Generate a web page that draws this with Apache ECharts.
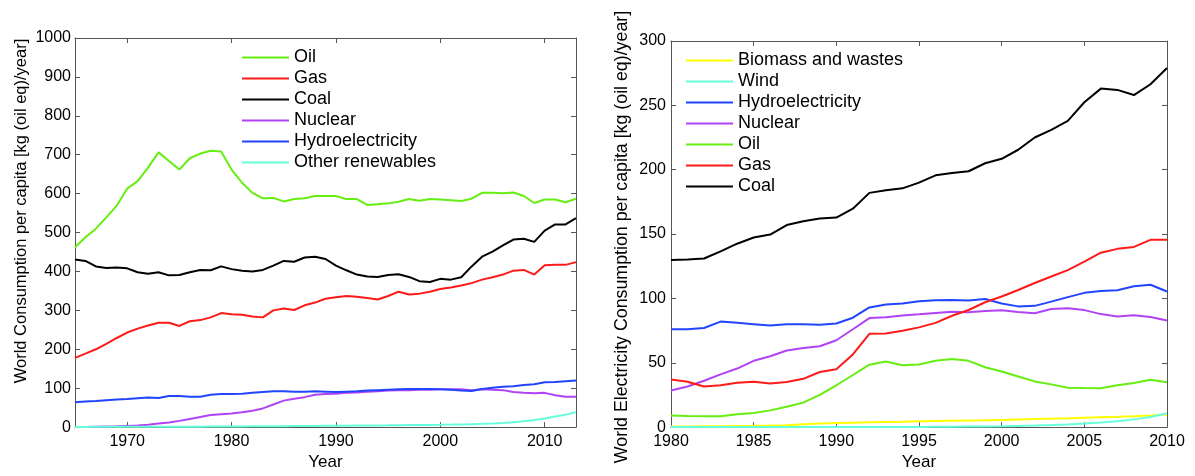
<!DOCTYPE html>
<html>
<head>
<meta charset="utf-8">
<script src="https://cdn.jsdelivr.net/npm/echarts@6/dist/echarts.min.js"></script>
<style>
  html, body { margin: 0; padding: 0; background: #fff; }
  #left { position: absolute; left: 0; top: 0; width: 600px; height: 476px; }
  #right { position: absolute; left: 600px; top: 0; width: 595px; height: 476px; }
</style>
</head>
<body>
<div id="left"></div>
<div id="right"></div>
<script>
// ---------- Left chart: World consumption per capita (1965-2013) ----------
const yearsL = [1965,1966,1967,1968,1969,1970,1971,1972,1973,1974,1975,1976,1977,1978,1979,1980,1981,1982,1983,1984,1985,1986,1987,1988,1989,1990,1991,1992,1993,1994,1995,1996,1997,1998,1999,2000,2001,2002,2003,2004,2005,2006,2007,2008,2009,2010,2011,2012,2013];
const oilL = [462,488,510,539,569,613,632,667,706,684, 662,691,703,710,708,662,628,602,588,589, 580,586,588,594,594,594,586,586,571,573, 575,579,586,582,586,585,583,581,587,602, 602,601,603,594,576,585,585,578,587];
const gasL = [178,189,200,214,229,243,253,261,268,268, 260,272,275,282,293,290,289,284,282,300, 305,301,313,320,330,334,337,335,332,328, 337,348,341,343,348,355,359,364,370,379, 385,392,402,404,392,416,417,417,424];
const coalL = [431,427,413,409,410,408,398,394,398,390, 391,398,404,403,413,406,402,400,404,415, 427,425,436,438,432,415,403,392,387,386, 391,393,386,375,373,381,379,385,413,438, 451,467,482,484,476,505,521,521,537];
const nuclearL = [0,0.5,1,1.5,2,3,4,6,9,12, 16,21,26,31,33,35,38,42,48,58, 68,73,77,83,85,86,88,89,91,92, 94,95,95,96,96,97,97,97,95,97, 96,95,90,88,87,88,82,78,78];
const hydroL = [64,66,67,69,71,72,74,76,75,80, 80,78,78,83,85,85,86,88,90,92, 92,91,91,92,91,90,91,92,94,95, 96,97,98,98,98,97,96,94,93,98, 101,104,105,108,110,115,116,118,120];
const otherL = [0.5,0.5,0.6,0.6,0.7,0.7,0.8,0.8,0.9,0.9, 1.0,1.1,1.2,1.3,1.4,1.5,1.7,1.9,2.1,2.3, 2.5,2.7,2.9,3.1,3.3,3.5,3.7,3.9,4.1,4.3, 4.5,4.8,5.1,5.4,5.7,6.0,6.4,6.9,7.5,8.3, 9.3,10.5,12.5,15,18,22,27,32,38];
const xTicksL = [1970,1980,1990,2000,2010];

// ---------- Right chart: World electricity consumption per capita (1980-2010) ----------
const yearsR = [1980,1981,1982,1983,1984,1985,1986,1987,1988,1989,1990,1991,1992,1993,1994,1995,1996,1997,1998,1999,2000,2001,2002,2003,2004,2005,2006,2007,2008,2009,2010];
const biomassR = [0.5,0.5,0.6,0.7,0.9,1.0,1.2,1.5,2.2,2.8, 3.1,3.4,3.7,4.0,4.2,4.5,4.7,4.9,5.1,5.3, 5.6,5.9,6.2,6.5,6.8,7.2,7.6,8.0,8.5,9.1,9.8];
const windR = [0,0,0,0,0,0,0,0,0,0, 0,0,0,0,0.1,0.1,0.2,0.3,0.4,0.5, 0.6,0.9,1.2,1.6,2.1,2.8,3.6,4.6,6.0,7.9,10.8];
const hydroR = [76,76,77,82,81,80,79,80,80,79.5, 80.5,85,93,95.3,96,97.7,98.6,98.7,98.3,99.5, 96,93.8,94.2,97.5,101,104.3,105.8,106.4,109.5,110.6,105.4];
const nuclearR = [28.5,31.5,36,41,45.5,51.5,55,59.5,61.5,62.8, 67.5,76,84.7,85.4,86.8,87.7,88.7,89.7,89.3,90.3, 90.8,89.5,88.4,91.8,92.3,90.9,87.8,85.9,86.9,85.5,82.8];
const oilR = [9,8.7,8.5,8.4,10,11,13,15.8,19,25, 32.5,40.5,48.5,51,48,48.7,51.5,53,51.5,46.5, 43.2,39.3,35.5,33.2,30.5,30.3,30.2,32.5,34.2,36.8,34.9];
const gasR = [37,35.3,31.5,32.5,34.5,35.2,33.9,35,37.5,42.8, 45,56.5,72.5,72.7,74.8,77.5,81,86.5,91,97, 101.5,106.5,112,117,122,128.5,135.5,138.5,140,145.5,145.6];
const coalR = [129.8,130.3,131,136.6,142.5,147.3,149.6,157,160,162, 162.8,169.7,182,184,185.5,190,195.6,197.4,198.8,205, 208.5,215.5,225,231,238,252.4,263,262,258,266.4,279];

const FONT = "'Liberation Sans', Arial, Helvetica, sans-serif";
const FRAME = '#555555';
const COLORS = {
  'Oil': '#66ee11',
  'Gas': '#ff1a1a',
  'Coal': '#000000',
  'Nuclear': '#b044f5',
  'Hydroelectricity': '#2244ff',
  'Other renewables': '#66ffdd',
  'Wind': '#66ffdd',
  'Biomass and wastes': '#ffff00'
};

function pairs(xs, ys) { return xs.map((x, i) => [x, ys[i]]); }
function plain(v) { return String(v); }

function mkSeries(name, xs, ys) {
  return {
    name: name, type: 'line', data: pairs(xs, ys),
    showSymbol: false, symbol: 'none', animation: false,
    lineStyle: { width: 2, color: COLORS[name] },
    itemStyle: { color: COLORS[name] },
    emphasis: { disabled: true }
  };
}

function baseAxis(extra) {
  return Object.assign({
    type: 'value',
    splitLine: { show: false },
    axisLine: { show: true, onZero: false, lineStyle: { color: FRAME, width: 1 } },
    axisTick: { show: true, inside: true, length: 5, lineStyle: { color: FRAME } },
    axisLabel: { color: '#000', fontFamily: FONT, fontSize: 16, formatter: plain },
    nameTextStyle: { color: '#000', fontFamily: FONT, fontSize: 17 }
  }, extra);
}

function legendOpt(names, left, top) {
  return {
    data: names, orient: 'vertical', left: left, top: top, padding: 0,
    icon: 'rect', itemWidth: 47, itemHeight: 2, itemGap: 0,
    textStyle: { fontFamily: FONT, fontSize: 18, color: '#000', lineHeight: 21 },
    selectedMode: false
  };
}

function yTitle(text, x, y, size) {
  return {
    type: 'text', x: x, y: y, rotation: Math.PI / 2, silent: true,
    style: { text: text, fill: '#000', font: size + 'px ' + FONT, textAlign: 'center', textVerticalAlign: 'middle' }
  };
}

// ----- left -----
const left = echarts.init(document.getElementById('left'), null, { renderer: 'canvas' });
const namesL = ['Oil','Gas','Coal','Nuclear','Hydroelectricity','Other renewables'];
const dataL = [oilL, gasL, coalL, nuclearL, hydroL, otherL];
left.setOption({
  backgroundColor: '#fff',
  animation: false,
  grid: { left: 75, top: 38, width: 501, height: 395 },
  legend: legendOpt(namesL, 242, 47),
  graphic: [ yTitle('World Consumption per capita [kg (oil eq)/year]', 21, 211, 16.5) ],
  xAxis: [
    baseAxis({ min: 1965, max: 2013, position: 'bottom',
      axisTick: { show: true, inside: true, length: 5, customValues: xTicksL, lineStyle: { color: FRAME } },
      axisLabel: { color: '#000', fontFamily: FONT, fontSize: 16, margin: 6, customValues: xTicksL, formatter: plain },
      name: 'Year', nameLocation: 'middle', nameGap: 26 }),
    baseAxis({ min: 1965, max: 2013, position: 'top',
      axisTick: { show: true, inside: true, length: 5, customValues: xTicksL, lineStyle: { color: FRAME } },
      axisLabel: { show: false } })
  ],
  yAxis: [
    baseAxis({ min: 0, max: 1000, interval: 100, position: 'left',
      axisLabel: { color: '#000', fontFamily: FONT, fontSize: 16, margin: 4, formatter: plain } }),
    baseAxis({ min: 0, max: 1000, interval: 100, position: 'right', axisLabel: { show: false } })
  ],
  series: namesL.map((n, i) => mkSeries(n, yearsL, dataL[i]))
});

// ----- right -----
const right = echarts.init(document.getElementById('right'), null, { renderer: 'canvas' });
const namesR = ['Biomass and wastes','Wind','Hydroelectricity','Nuclear','Oil','Gas','Coal'];
const dataR = [biomassR, windR, hydroR, nuclearR, oilR, gasR, coalR];
right.setOption({
  backgroundColor: '#fff',
  animation: false,
  grid: { left: 71, top: 41, width: 496, height: 392 },
  legend: legendOpt(namesR, 86, 50),
  graphic: [ yTitle('World Electricity Consumption per capita [kg (oil eq)/year]', 22, 237, 17.8) ],
  xAxis: [
    baseAxis({ min: 1980, max: 2010, interval: 5, position: 'bottom',
      axisLabel: { color: '#000', fontFamily: FONT, fontSize: 16, margin: 6, formatter: plain },
      name: 'Year', nameLocation: 'middle', nameGap: 26 }),
    baseAxis({ min: 1980, max: 2010, interval: 5, position: 'top', axisLabel: { show: false } })
  ],
  yAxis: [
    baseAxis({ min: 0, max: 300, interval: 50, position: 'left',
      axisLabel: { color: '#000', fontFamily: FONT, fontSize: 16, margin: 5, formatter: plain } }),
    baseAxis({ min: 0, max: 300, interval: 50, position: 'right', axisLabel: { show: false } })
  ],
  series: namesR.map((n, i) => mkSeries(n, yearsR, dataR[i]))
});
</script>
</body>
</html>
